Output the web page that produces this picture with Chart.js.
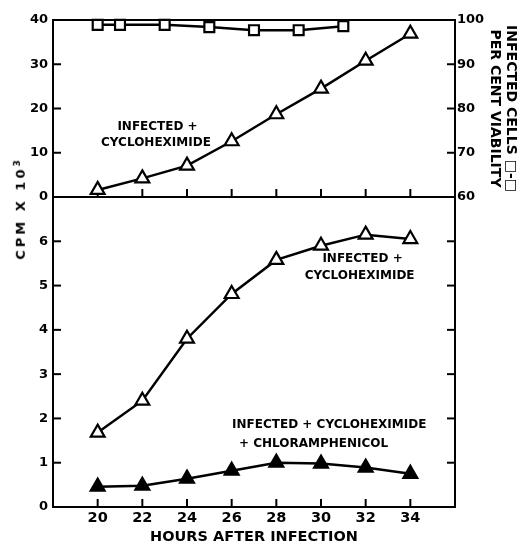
<!DOCTYPE html>
<html>
<head>
<meta charset="utf-8">
<script src="https://cdn.jsdelivr.net/npm/chart.js@4.4.1/dist/chart.umd.min.js"></script>
<style>
    body { margin: 0; background: #fff; }
    #wrap { position: relative; width: 519px; height: 546px; overflow: hidden; }
    canvas { position: absolute; left: 0; }
    #chartTop { top: 0; }
    #chartBottom { top: 190px; }
    #ylabel {
        position: absolute; left: 20px; top: 210px;
        transform: translate(-50%, -50%) rotate(-90deg);
        white-space: nowrap; font: bold 13px "DejaVu Sans"; letter-spacing: 3px; color: #000;
    }
    #ylabel sup { font-size: 9px; letter-spacing: 0; }
</style>
</head>
<body>
<div id="wrap">
    <canvas id="chartTop" width="519" height="200"></canvas>
    <canvas id="chartBottom" width="519" height="356"></canvas>
    <div id="ylabel">CPM X 10<sup>3</sup></div>
</div>
<script>
// hours after infection
const hours = [20, 22, 24, 26, 28, 30, 32, 34];
const xTicks = [20, 22, 24, 26, 28, 30, 32, 34];

// top panel, CPM x 10^3
const topCyclo = [1.6, 4.2, 7.1, 12.6, 18.7, 24.5, 30.8, 36.9];

// top panel, per cent viability (right axis)
const viabilityHours = [20, 21, 23, 25, 27, 29, 31];
const viability = [98.9, 98.9, 98.9, 98.4, 97.7, 97.7, 98.6];

// bottom panel, CPM x 10^3
const bottomCyclo = [1.68, 2.40, 3.80, 4.81, 5.58, 5.90, 6.15, 6.05];
const bottomChloram = [0.46, 0.48, 0.64, 0.82, 1.00, 0.98, 0.89, 0.75];

const topTicks = [0, 10, 20, 30, 40];
const viabilityTicks = [60, 70, 80, 90, 100];
const bottomTicks = [0, 1, 2, 3, 4, 5, 6];

const tickLen = 8;
const fontFamily = '"DejaVu Sans", sans-serif';

function points(xs, ys) {
    return xs.map((x, i) => ({ x: x, y: ys[i] }));
}

function setTicks(values) {
    return (scale) => {
        scale.ticks = values.map(v => ({ value: v }));
    };
}

// fixed axis size, and no extra room for labels at the ends
function fixSize(key, size) {
    return (scale) => {
        scale[key] = size;
        scale.paddingTop = 0;
        scale.paddingBottom = 0;
        scale.paddingLeft = 0;
        scale.paddingRight = 0;
    };
}

// box round the plot area, with the tick marks pointing inwards
const framePlugin = {
    id: 'frame',
    beforeDatasetsDraw(chart, args, opts) {
        const ctx = chart.ctx;
        const a = chart.chartArea;
        ctx.save();
        ctx.strokeStyle = '#000';
        ctx.lineWidth = 2;
        ctx.strokeRect(a.left, a.top, a.right - a.left, a.bottom - a.top);
        for (const [id, side] of opts.marks) {
            const s = chart.scales[id];
            for (const t of s.ticks) {
                const p = s.getPixelForValue(t.value);
                ctx.beginPath();
                if (side === 'bottom') {
                    ctx.moveTo(p, a.bottom);
                    ctx.lineTo(p, a.bottom - tickLen);
                } else if (side === 'left') {
                    ctx.moveTo(a.left, p);
                    ctx.lineTo(a.left + tickLen, p);
                } else {
                    ctx.moveTo(a.right, p);
                    ctx.lineTo(a.right - tickLen, p);
                }
                ctx.stroke();
            }
        }
        ctx.restore();
    }
};

const notesPlugin = {
    id: 'notes',
    afterDatasetsDraw(chart, args, opts) {
        const ctx = chart.ctx;
        const xs = chart.scales.x;
        const ys = chart.scales.y;
        ctx.save();
        ctx.fillStyle = '#000';
        ctx.font = 'bold 12px ' + fontFamily;
        ctx.textBaseline = 'middle';
        for (const n of opts.items) {
            ctx.textAlign = n.align;
            ctx.fillText(n.text, xs.getPixelForValue(n.x), ys.getPixelForValue(n.y));
        }
        ctx.restore();
    }
};

function lineSet(data, style, radius, fill, yAxisID) {
    return {
        data: data,
        yAxisID: yAxisID,
        borderColor: '#000',
        borderWidth: 2.5,
        tension: 0,
        pointStyle: style,
        pointRadius: radius,
        pointHoverRadius: radius,
        pointBorderWidth: 2.2,
        pointBorderColor: '#000',
        pointBackgroundColor: fill,
        clip: false,
    };
}

const tickFont = { family: fontFamily, size: 13, weight: 'bold' };

new Chart(document.getElementById('chartTop'), {
    type: 'line',
    data: {
        datasets: [
            lineSet(points(hours, topCyclo), 'triangle', 8, '#fff', 'y'),
            lineSet(points(viabilityHours, viability), 'rect', 7, '#fff', 'y2'),
        ],
    },
    options: {
        responsive: false,
        animation: false,
        events: [],
        layout: { autoPadding: false, padding: { top: 20, bottom: 0, left: 0, right: 0 } },
        scales: {
            x: {
                type: 'linear',
                min: 18,
                max: 36,
                afterBuildTicks: setTicks(xTicks),
                afterFit: fixSize('height', 3),
                ticks: { display: false },
                grid: { display: false, drawTicks: false },
                border: { display: false },
            },
            y: {
                position: 'left',
                min: 0,
                max: 40,
                afterBuildTicks: setTicks(topTicks),
                afterFit: fixSize('width', 53),
                ticks: { color: '#000', font: tickFont, padding: 5 },
                grid: { display: false, drawTicks: false },
                border: { display: false },
            },
            y2: {
                position: 'right',
                min: 60,
                max: 100,
                afterBuildTicks: setTicks(viabilityTicks),
                afterFit: fixSize('width', 64),
                ticks: { color: '#000', font: tickFont, padding: 2 },
                grid: { display: false, drawTicks: false },
                border: { display: false },
                title: {
                    display: true,
                    text: ['INFECTED CELLS \u25A1-\u25A1', 'PER CENT VIABILITY'],
                    color: '#000',
                    font: { family: fontFamily, size: 14, weight: 'bold', lineHeight: 1.1 },
                    padding: { top: 1, bottom: 0 },
                },
            },
        },
        plugins: {
            legend: { display: false },
            tooltip: { enabled: false },
            frame: { marks: [['x', 'bottom'], ['y', 'left'], ['y2', 'right']] },
            notes: {
                items: [
                    { text: 'INFECTED +', x: 22.68, y: 15.8, align: 'center' },
                    { text: 'CYCLOHEXIMIDE', x: 22.61, y: 12.3, align: 'center' },
                ],
            },
        },
    },
    plugins: [framePlugin, notesPlugin],
});

new Chart(document.getElementById('chartBottom'), {
    type: 'line',
    data: {
        datasets: [
            lineSet(points(hours, bottomCyclo), 'triangle', 8, '#fff', 'y'),
            lineSet(points(hours, bottomChloram), 'triangle', 8, '#000', 'y'),
        ],
    },
    options: {
        responsive: false,
        animation: false,
        events: [],
        layout: { autoPadding: false, padding: { top: 7, bottom: 0, left: 0, right: 64 } },
        scales: {
            x: {
                type: 'linear',
                min: 18,
                max: 36,
                afterBuildTicks: setTicks(xTicks),
                afterFit: fixSize('height', 39),
                ticks: { color: '#000', font: { family: fontFamily, size: 14.5, weight: 'bold' }, padding: 3 },
                grid: { display: false, drawTicks: false },
                border: { display: false },
                title: {
                    display: true,
                    text: 'HOURS AFTER INFECTION',
                    color: '#000',
                    font: { family: fontFamily, size: 14.5, weight: 'bold' },
                    padding: { top: 0, bottom: 0 },
                },
            },
            y: {
                position: 'left',
                min: 0,
                max: 7,
                afterBuildTicks: setTicks(bottomTicks),
                afterFit: fixSize('width', 53),
                ticks: { color: '#000', font: tickFont, padding: 5 },
                grid: { display: false, drawTicks: false },
                border: { display: false },
            },
        },
        plugins: {
            legend: { display: false },
            tooltip: { enabled: false },
            frame: { marks: [['x', 'bottom'], ['y', 'left'], ['y', 'right']] },
            notes: {
                items: [
                    { text: 'INFECTED +', x: 31.86, y: 5.60, align: 'center' },
                    { text: 'CYCLOHEXIMIDE', x: 31.73, y: 5.22, align: 'center' },
                    { text: 'INFECTED + CYCLOHEXIMIDE', x: 26.02, y: 1.85, align: 'left' },
                    { text: '+ CHLORAMPHENICOL', x: 26.33, y: 1.42, align: 'left' },
                ],
            },
        },
    },
    plugins: [framePlugin, notesPlugin],
});
</script>
</body>
</html>
